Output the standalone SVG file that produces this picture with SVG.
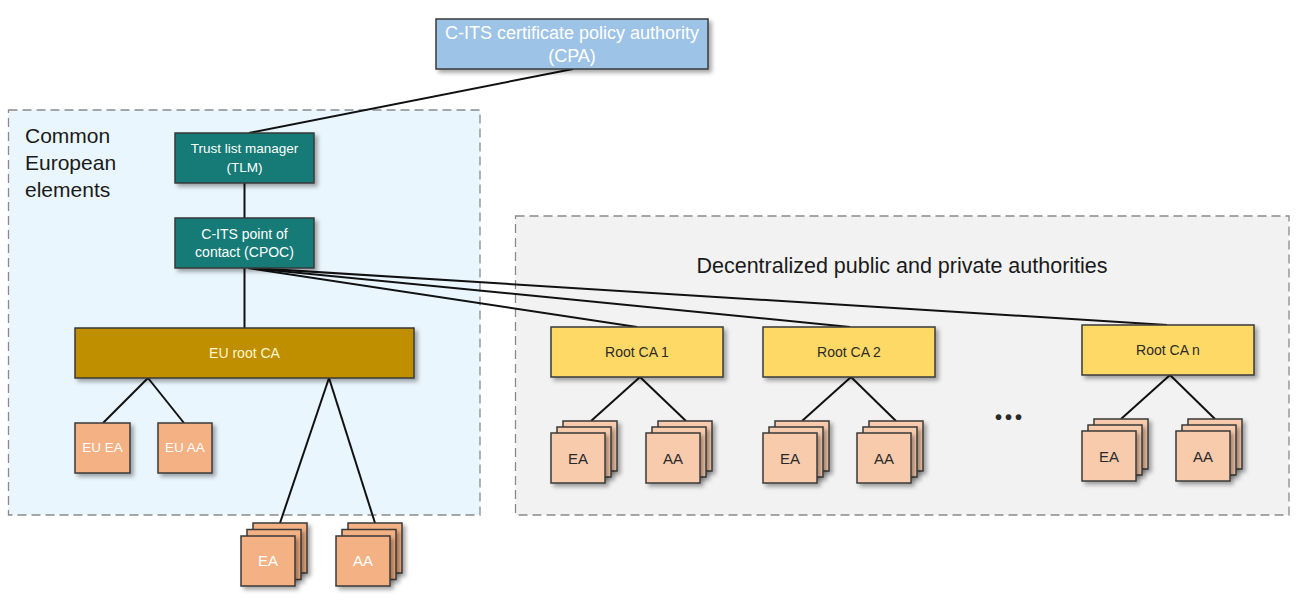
<svg xmlns="http://www.w3.org/2000/svg" width="1296" height="603" viewBox="0 0 1296 603">
<defs>
<filter id="sh" x="-20%" y="-20%" width="150%" height="160%">
<feDropShadow dx="3" dy="3" stdDeviation="2" flood-color="#000" flood-opacity="0.35"/>
</filter>
<style>
.region{stroke:#8a8a8a;stroke-width:1.3;stroke-dasharray:9 5}
.box{stroke:#3a3a3a;stroke-width:1.5;filter:url(#sh)}
.cpa{fill:#9dc3e6}
.teal{fill:#127a76}
.gold{fill:#bf8f00}
.yel{fill:#ffd966}
.peach{fill:#f4b183}
.lpeach{fill:#f8cbad}
.conn line{stroke:#111;stroke-width:2}
text{font-family:"Liberation Sans",Arial,sans-serif;text-anchor:middle}
.w{fill:#ffffff}
.d{fill:#2a2a2a}
</style>
</defs>
<rect width="1296" height="603" fill="#ffffff"/>

<g id="region-common">
<rect class="region" x="8.5" y="110" width="471.5" height="405" fill="#eaf6fd"/>
<text x="25" y="143" font-size="21" fill="#1a1a1a" style="text-anchor:start">Common</text>
<text x="25" y="170" font-size="21" fill="#1a1a1a" style="text-anchor:start">European</text>
<text x="25" y="197" font-size="21" fill="#1a1a1a" style="text-anchor:start">elements</text>
</g>

<g id="region-decentralized">
<rect class="region" x="515.5" y="216" width="773.5" height="299" fill="#f2f2f2"/>
<text x="902" y="273" font-size="21.5" fill="#1a1a1a">Decentralized public and private authorities</text>
</g>

<g id="connectors" class="conn">
<line x1="573" y1="69" x2="249" y2="133"/>
<line x1="244.5" y1="183" x2="244.5" y2="218"/>
<line x1="244.5" y1="268" x2="244.5" y2="328"/>
<line x1="248" y1="268" x2="637" y2="327"/>
<line x1="250" y1="268" x2="850" y2="327"/>
<line x1="252" y1="268" x2="1167" y2="325"/>
<line x1="148" y1="378" x2="103" y2="423"/>
<line x1="148" y1="378" x2="184" y2="423"/>
<line x1="329" y1="378" x2="280" y2="523"/>
<line x1="329" y1="378" x2="375" y2="523"/>
<line x1="640" y1="377" x2="591" y2="421"/>
<line x1="640" y1="377" x2="686" y2="421"/>
<line x1="851" y1="377" x2="802" y2="421"/>
<line x1="851" y1="377" x2="896" y2="421"/>
<line x1="1170" y1="375" x2="1121" y2="419"/>
<line x1="1170" y1="375" x2="1215" y2="419"/>
</g>

<g id="cpa">
<rect class="box cpa" x="436" y="19" width="272" height="50"/>
<text class="w" x="572" y="39" font-size="18">C-ITS certificate policy authority</text>
<text class="w" x="572" y="62" font-size="18">(CPA)</text>
</g>

<g id="tlm">
<rect class="box teal" x="175" y="133" width="139" height="50"/>
<text class="w" x="244.5" y="153" font-size="13.5">Trust list manager</text>
<text class="w" x="244.5" y="172" font-size="13.5">(TLM)</text>
</g>

<g id="cpoc">
<rect class="box teal" x="175" y="218" width="139" height="50"/>
<text class="w" x="244.5" y="239" font-size="14">C-ITS point of</text>
<text class="w" x="244.5" y="257" font-size="14">contact (CPOC)</text>
</g>

<g id="eu-root-ca">
<rect class="box gold" x="75" y="328" width="339" height="50"/>
<text x="244.5" y="358" font-size="14" fill="#fff6cc">EU root CA</text>
</g>

<g id="eu-ea">
<rect class="box peach" x="75" y="423" width="55" height="50"/>
<text class="w" x="102.5" y="452" font-size="13.5">EU EA</text>
</g>
<g id="eu-aa">
<rect class="box peach" x="158" y="423" width="54" height="50"/>
<text class="w" x="185" y="452" font-size="13.5">EU AA</text>
</g>

<g id="eu-ea-stack">
<rect class="box peach" x="253" y="523" width="54" height="50"/>
<rect class="box peach" x="247" y="529.5" width="54" height="50"/>
<rect class="box peach" x="241" y="536" width="54" height="50"/>
<text class="w" x="268" y="566" font-size="15">EA</text>
</g>
<g id="eu-aa-stack">
<rect class="box peach" x="348" y="523" width="54" height="50"/>
<rect class="box peach" x="342" y="529.5" width="54" height="50"/>
<rect class="box peach" x="336" y="536" width="54" height="50"/>
<text class="w" x="363" y="566" font-size="15">AA</text>
</g>

<g id="root-ca-1">
<rect class="box yel" x="551" y="327" width="172" height="50"/>
<text class="d" x="637" y="357" font-size="14">Root CA 1</text>
</g>
<g id="ea-stack-1">
<rect class="box lpeach" x="563" y="421" width="54" height="50"/>
<rect class="box lpeach" x="557" y="427" width="54" height="50"/>
<rect class="box lpeach" x="551" y="433" width="54" height="50"/>
<text class="d" x="578" y="464" font-size="15">EA</text>
</g>
<g id="aa-stack-1">
<rect class="box lpeach" x="658" y="421" width="54" height="50"/>
<rect class="box lpeach" x="652" y="427" width="54" height="50"/>
<rect class="box lpeach" x="646" y="433" width="54" height="50"/>
<text class="d" x="673" y="464" font-size="15">AA</text>
</g>

<g id="root-ca-2">
<rect class="box yel" x="763" y="327" width="172" height="50"/>
<text class="d" x="849" y="357" font-size="14">Root CA 2</text>
</g>
<g id="ea-stack-2">
<rect class="box lpeach" x="775" y="421" width="54" height="50"/>
<rect class="box lpeach" x="769" y="427" width="54" height="50"/>
<rect class="box lpeach" x="763" y="433" width="54" height="50"/>
<text class="d" x="790" y="464" font-size="15">EA</text>
</g>
<g id="aa-stack-2">
<rect class="box lpeach" x="869" y="421" width="54" height="50"/>
<rect class="box lpeach" x="863" y="427" width="54" height="50"/>
<rect class="box lpeach" x="857" y="433" width="54" height="50"/>
<text class="d" x="884" y="464" font-size="15">AA</text>
</g>

<g id="ellipsis">
<text class="d" x="1010" y="424" font-size="20" font-weight="bold" letter-spacing="3">•••</text>
</g>

<g id="root-ca-n">
<rect class="box yel" x="1082" y="325" width="172" height="50"/>
<text class="d" x="1168" y="355" font-size="14">Root CA n</text>
</g>
<g id="ea-stack-n">
<rect class="box lpeach" x="1094" y="419" width="54" height="50"/>
<rect class="box lpeach" x="1088" y="425" width="54" height="50"/>
<rect class="box lpeach" x="1082" y="431" width="54" height="50"/>
<text class="d" x="1109" y="462" font-size="15">EA</text>
</g>
<g id="aa-stack-n">
<rect class="box lpeach" x="1188" y="419" width="54" height="50"/>
<rect class="box lpeach" x="1182" y="425" width="54" height="50"/>
<rect class="box lpeach" x="1176" y="431" width="54" height="50"/>
<text class="d" x="1203" y="462" font-size="15">AA</text>
</g>
</svg>
